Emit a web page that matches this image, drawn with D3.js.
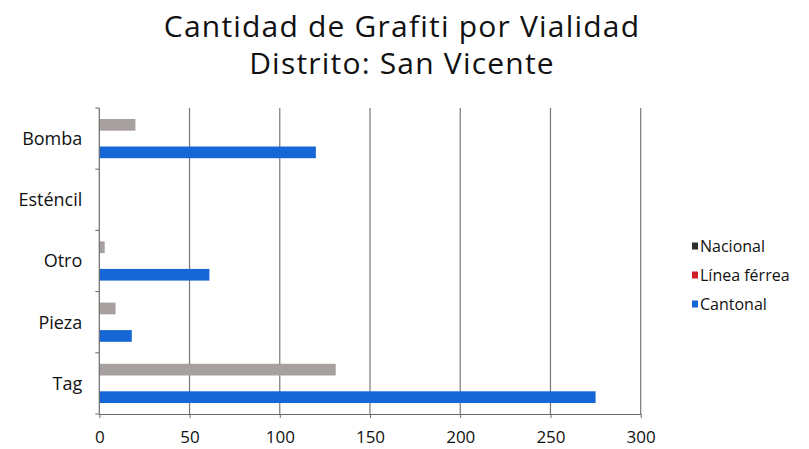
<!DOCTYPE html>
<html>
<head>
<meta charset="utf-8">
<script src="https://cdn.jsdelivr.net/npm/d3@7"></script>
<style>
  html, body { margin: 0; padding: 0; background: #ffffff; }
  svg { display: block; font-family: "Open Sans", sans-serif; }
</style>
</head>
<body>
<svg id="chart" width="809" height="449"></svg>
<script>
// Graffiti counts by road type, San Vicente district
const categories = ["Bomba", "Esténcil", "Otro", "Pieza", "Tag"];
const seriesNames = ["Nacional", "Línea férrea", "Cantonal"];
const nacional    = [20, 0, 3, 9, 131];
const lineaFerrea = [0, 0, 0, 0, 0];
const cantonal    = [120, 0, 61, 18, 275];
const xTicks = [0, 50, 100, 150, 200, 250, 300];
const titleLines = ["Cantidad de Grafiti por Vialidad", "Distrito: San Vicente"];

const seriesValues = [nacional, lineaFerrea, cantonal];
const barColors = ["#a6a09e", "#d01f2b", "#1666d6"];
const legendColors = ["#2e2e2e", "#d01f2b", "#1666d6"];

const svg = d3.select("#chart");
const plot = { left: 99.3, right: 640.7, top: 108, bottom: 414 };

const x = d3.scaleLinear().domain([0, 300]).range([plot.left, plot.right]);
const y = d3.scaleBand().domain(categories).range([plot.top, plot.bottom]).padding(0);
const ySub = d3.scaleBand().domain(seriesNames).range([0, y.bandwidth()])
  .paddingInner(0.15).paddingOuter(0.8);

// Title
svg.append("g").selectAll("text").data(titleLines).join("text")
  .attr("x", 402)
  .attr("y", (d, i) => 37 + i * 37)
  .attr("text-anchor", "middle")
  .attr("font-size", 30)
  .attr("letter-spacing", 1.2)
  .attr("fill", "#111")
  .text(d => d);

// Vertical gridlines
svg.append("g").selectAll("line").data(xTicks.slice(1)).join("line")
  .attr("x1", d => x(d)).attr("x2", d => x(d))
  .attr("y1", plot.top).attr("y2", plot.bottom)
  .attr("stroke", "#777").attr("stroke-width", 1.2);

// Bars
const rows = [];
categories.forEach((c, ci) => {
  seriesNames.forEach((s, si) => {
    rows.push({ cat: c, series: s, si, value: seriesValues[si][ci] });
  });
});
svg.append("g").selectAll("rect").data(rows.filter(r => r.value > 0)).join("rect")
  .attr("x", x(0))
  .attr("y", d => y(d.cat) + ySub(d.series))
  .attr("width", d => x(d.value) - x(0))
  .attr("height", ySub.bandwidth())
  .attr("fill", d => barColors[d.si]);

// Bottom axis
const xAxis = svg.append("g")
  .attr("transform", `translate(0,${plot.bottom})`)
  .call(d3.axisBottom(x).tickValues(xTicks).tickSize(4).tickPadding(13).tickSizeOuter(0));
xAxis.select(".domain").attr("stroke", "#6a6a6a").attr("stroke-width", 1.2);
xAxis.selectAll(".tick line").attr("stroke", "#6a6a6a");
xAxis.selectAll("text").attr("font-size", 17).attr("fill", "#111")
  .attr("font-family", "\"Open Sans\", sans-serif");

// Left axis: ticks sit on category boundaries
const yAxisG = svg.append("g").attr("transform", `translate(${plot.left},0)`);
yAxisG.append("line")
  .attr("x1", 0).attr("x2", 0).attr("y1", plot.top).attr("y2", plot.bottom)
  .attr("stroke", "#6a6a6a").attr("stroke-width", 1.2);
const boundaries = categories.map(c => y(c)).concat([plot.bottom]);
yAxisG.selectAll("line.b").data(boundaries).join("line").attr("class", "b")
  .attr("x1", -4).attr("x2", 0)
  .attr("y1", d => d).attr("y2", d => d)
  .attr("stroke", "#6a6a6a");
yAxisG.selectAll("text").data(categories).join("text")
  .attr("x", -17)
  .attr("y", d => y(d) + y.bandwidth() / 2)
  .attr("dy", "0.35em")
  .attr("text-anchor", "end")
  .attr("font-size", 18)
  .attr("fill", "#111")
  .text(d => d);

// Legend
const legend = svg.append("g").attr("transform", "translate(692,0)");
const legendY = [246, 275, 304];
const items = legend.selectAll("g").data(seriesNames).join("g")
  .attr("transform", (d, i) => `translate(0,${legendY[i]})`);
items.append("rect")
  .attr("x", 0).attr("y", -3.5).attr("width", 6).attr("height", 7)
  .attr("fill", (d, i) => legendColors[i]);
items.append("text")
  .attr("x", 8).attr("dy", "0.35em")
  .attr("font-size", 16).attr("fill", "#111")
  .text(d => d);
</script>
</body>
</html>
